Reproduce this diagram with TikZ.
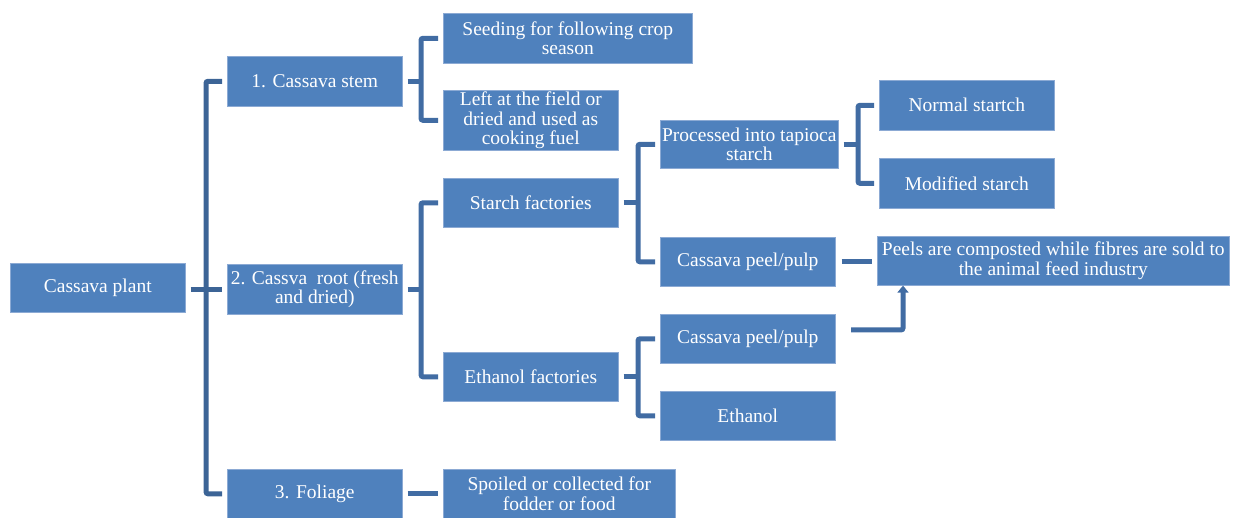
\documentclass[tikz,border=0pt]{standalone}
\usepackage{fontspec}
\setmainfont{Liberation Serif}
\usetikzlibrary{arrows.meta,calc}
\definecolor{boxblue}{RGB}{79,129,189}
\definecolor{boxedge}{RGB}{140,170,212}
\definecolor{linkblue}{RGB}{65,108,163}
\definecolor{trunkblue}{RGB}{60,100,150}
\begin{document}
\begin{tikzpicture}[x=1pt,y=-1pt,
  box/.style={fill=boxblue,draw=boxedge,line width=0.6pt,anchor=north west,
    text=white,align=center,inner sep=0pt,font=\fontsize{19.5}{19.5}\selectfont},
  conn/.style={draw=linkblue,line width=5pt,rounded corners=2pt},
  gap/.style={shorten <=5pt,shorten >=5pt}]
\useasboundingbox (0,0) rectangle (1236,518);

% level 0 and 1
\node[box,minimum width=175pt,minimum height=49pt] (plant) at (10,263) {Cassava plant};
\node[box,minimum width=175pt,minimum height=50pt] (stem) at (227,56) {1. Cassava stem};
\node[box,minimum width=175pt,minimum height=50pt] (root) at (227,264) {2. Cassva\ \ root (fresh\\and dried)};
\node[box,minimum width=175pt,minimum height=49pt] (foliage) at (227,469) {3. Foliage};

% level 2
\node[box,minimum width=249pt,minimum height=50pt] (seeding) at (443,13) {Seeding for following crop\\season};
\node[box,minimum width=175pt,minimum height=60pt] (field) at (443,90) {Left at the field or\\dried and used as\\cooking fuel};
\node[box,minimum width=175pt,minimum height=49pt] (starchf) at (443,178) {Starch factories};
\node[box,minimum width=175pt,minimum height=49pt] (ethanolf) at (443,352) {Ethanol factories};
\node[box,minimum width=232pt,minimum height=49pt] (spoiled) at (443,469) {Spoiled or collected for\\fodder or food};

% level 3
\node[box,minimum width=178pt,minimum height=48pt] (tapioca) at (660,120) {Processed into tapioca\\starch};
\node[box,minimum width=175pt,minimum height=49pt] (pulpa) at (660,237) {Cassava peel/pulp};
\node[box,minimum width=175pt,minimum height=49pt] (pulpb) at (660,314) {Cassava peel/pulp};
\node[box,minimum width=175pt,minimum height=49pt] (ethanol) at (660,391) {Ethanol};

% level 4
\node[box,minimum width=175pt,minimum height=50pt] (normal) at (879,80) {Normal startch};
\node[box,minimum width=175pt,minimum height=50pt] (modified) at (879,158) {Modified starch};
\node[box,minimum width=352pt,minimum height=49pt] (peels) at (877,236) {Peels are composted while fibres are sold to\\the animal feed industry};

% spines of the brackets
\coordinate (t0) at (206,0);
\coordinate (t1) at (421,0);
\coordinate (t2) at (638,0);
\coordinate (t3) at (858,0);

% main trunk
\draw[conn,draw=trunkblue,gap] (stem.west) -| (t0 |- foliage.west) -- (foliage.west);
\draw[conn,draw=trunkblue,gap] (plant.east |- root.west) -- (root.west);

% cassava stem
\draw[conn,gap] (seeding.west) -| (t1 |- field.west) -- (field.west);
\draw[conn,shorten <=5pt] (stem.east) -- (t1 |- stem.east);

% cassava root
\draw[conn,gap] (starchf.west) -| (t1 |- ethanolf.west) -- (ethanolf.west);
\draw[conn,shorten <=5pt] (root.east) -- (t1 |- root.east);

% foliage
\draw[conn,gap] (foliage.east) -- (spoiled.west);

% starch factories
\draw[conn,gap] (tapioca.west) -| (t2 |- pulpa.west) -- (pulpa.west);
\draw[conn,shorten <=5pt] (starchf.east) -- (t2 |- starchf.east);

% ethanol factories
\draw[conn,gap] (pulpb.west) -| (t2 |- ethanol.west) -- (ethanol.west);
\draw[conn,shorten <=5pt] (ethanolf.east) -- (t2 |- ethanolf.east);

% tapioca starch
\draw[conn,gap] (normal.west) -| (t3 |- modified.west) -- (modified.west);
\draw[conn,shorten <=5pt] (tapioca.east) -- (t3 |- tapioca.east);

% peel and pulp to the feed industry
\draw[conn,shorten <=6pt,shorten >=5pt] (pulpa.east) -- (peels.west |- pulpa.east);
\coordinate (pb) at (851,330);
\coordinate (pt) at (903,0);
\draw[conn,-{Triangle[width=11pt,length=7pt]}] (pb) -| (pt |- peels.south);
\end{tikzpicture}
\end{document}
